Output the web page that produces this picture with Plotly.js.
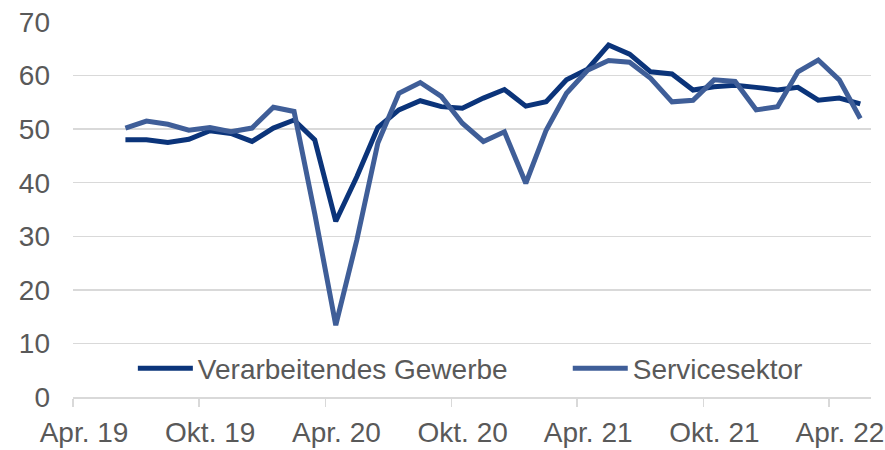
<!DOCTYPE html>
<html>
<head>
<meta charset="utf-8">
<script src="https://cdn.plot.ly/plotly-3.0.1.min.js"></script>
<style>html,body{margin:0;padding:0;background:#fff}#chart{width:885px;height:450px}</style>
</head>
<body>
<div id="chart"></div>
<script>
// Monthly dates, Jun 2019 .. May 2022
const months = [
  "2019-06","2019-07","2019-08","2019-09","2019-10","2019-11","2019-12",
  "2020-01","2020-02","2020-03","2020-04","2020-05","2020-06","2020-07","2020-08","2020-09","2020-10","2020-11","2020-12",
  "2021-01","2021-02","2021-03","2021-04","2021-05","2021-06","2021-07","2021-08","2021-09","2021-10","2021-11","2021-12",
  "2022-01","2022-02","2022-03","2022-04","2022-05"
];
const verarbeitendesGewerbe = [
  48.0, 48.0, 47.5, 48.1, 49.7, 49.2, 47.7,
  50.2, 51.7, 48.0, 32.8, 41.1, 50.3, 53.6, 55.3, 54.2, 53.9, 55.8, 57.4,
  54.3, 55.1, 59.2, 61.2, 65.7, 64.0, 60.7, 60.3, 57.3, 57.9, 58.2, 57.8,
  57.3, 57.8, 55.4, 55.8, 54.7
];
const servicesektor = [
  50.2, 51.5, 50.9, 49.8, 50.3, 49.5, 50.2,
  54.1, 53.3, 34.2, 13.4, 29.3, 47.4, 56.7, 58.7, 56.1, 51.1, 47.7, 49.5,
  39.9, 49.8, 56.7, 61.0, 62.8, 62.5, 59.5, 55.1, 55.4, 59.2, 58.9, 53.6,
  54.2, 60.7, 62.9, 59.2, 52.0
];
const tickDates = ["2019-04-01","2019-10-01","2020-04-01","2020-10-01","2021-04-01","2021-10-01","2022-04-01"];
const tickLabels = ["Apr. 19","Okt. 19","Apr. 20","Okt. 20","Apr. 21","Okt. 21","Apr. 22"];
const seriesNames = ["Verarbeitendes Gewerbe","Servicesektor"];

const font = "Liberation Sans, Arial, sans-serif";
const grey = "#595959";

const traces = [
  {x: months, y: verarbeitendesGewerbe, name: seriesNames[0], type: "scatter", mode: "lines",
   xperiod: "M1", xperiodalignment: "middle", legend: "legend",
   line: {color: "#0B347A", width: 5}},
  {x: months, y: servicesektor, name: seriesNames[1], type: "scatter", mode: "lines",
   xperiod: "M1", xperiodalignment: "middle", legend: "legend2",
   line: {color: "#3F5E98", width: 5}}
];

const legendBase = {orientation: "h", yanchor: "middle", xanchor: "left", y: 0.076,
  bgcolor: "rgba(0,0,0,0)", font: {family: font, size: 28, color: grey}, itemwidth: 55};

const layout = {
  width: 885, height: 450,
  margin: {l: 73, r: 14, t: 22, b: 53},
  paper_bgcolor: "#fff", plot_bgcolor: "#fff",
  font: {family: font, size: 28, color: grey},
  showlegend: true,
  legend: Object.assign({}, legendBase, {x: 0.075}),
  legend2: Object.assign({}, legendBase, {x: 0.62}),
  xaxis: {
    type: "date",
    range: ["2019-04-01", "2022-06-01"],
    tickmode: "array", tickvals: tickDates, ticktext: tickLabels,
    ticks: "outside", ticklen: 8, tickwidth: 1.5, tickcolor: "#d9d9d9",
    ticklabelshift: 11, ticklabelstandoff: 2,
    showgrid: false, zeroline: false,
    showline: true, linecolor: "#d9d9d9", linewidth: 1.5,
    tickfont: {family: font, size: 28, color: grey},
    fixedrange: true
  },
  yaxis: {
    range: [0, 70], tickmode: "array", tickvals: [0,10,20,30,40,50,60,70],
    showgrid: true, gridcolor: "#d9d9d9", gridwidth: 1.5,
    zeroline: false, showline: false, ticks: "",
    ticklabelstandoff: 22,
    tickfont: {family: font, size: 28, color: grey},
    fixedrange: true
  }
};

Plotly.newPlot("chart", traces, layout, {staticPlot: true, displayModeBar: false});
</script>
</body>
</html>
